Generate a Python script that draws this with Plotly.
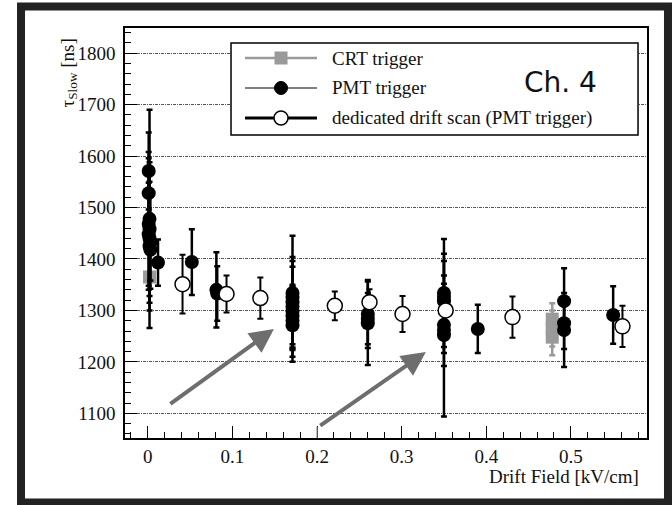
import plotly.graph_objects as go

# ---- data: slow scintillation time constant vs drift field ----
# CRT trigger runs
crt_x = [0.002, 0.478, 0.478, 0.478]
crt_y = [1365, 1283, 1265, 1248]
crt_err = [8, 31, 35, 35]

# PMT trigger runs
pmt_x = [0.001, 0.001, 0.002, 0.001, 0.002, 0.001, 0.002, 0.003, 0.002, 0.003, 0.012,
         0.052, 0.081, 0.082,
         0.171, 0.171, 0.171, 0.171, 0.171, 0.171, 0.171, 0.171,
         0.260, 0.260, 0.260,
         0.350, 0.350, 0.350, 0.350, 0.350, 0.350,
         0.390, 0.492, 0.492, 0.492, 0.550]
pmt_y = [1571, 1528, 1478, 1468, 1458, 1448, 1440, 1432, 1425, 1418, 1393,
         1394, 1340, 1333,
         1334, 1325, 1316, 1307, 1298, 1289, 1280, 1271,
         1293, 1284, 1275,
         1334, 1326, 1318, 1272, 1262, 1252,
         1264, 1318, 1275, 1262, 1291]
pmt_err = [75, 80, 212, 128, 130, 100, 125, 90, 125, 60, 45,
           64, 73, 53,
           111, 60, 88, 40, 98, 55, 70, 45,
           66, 50, 81,
           105, 70, 50, 80, 45, 158,
           47, 64, 50, 72, 56]

# dedicated drift scan (PMT trigger)
scan_x = [0.041, 0.093, 0.133, 0.221, 0.262, 0.301, 0.352, 0.431, 0.561]
scan_y = [1351, 1332, 1324, 1309, 1316, 1293, 1300, 1287, 1269]
scan_err = [57, 36, 40, 28, 25, 35, 30, 40, 40]

legend_labels = ["CRT trigger", "PMT trigger", "dedicated drift scan (PMT trigger)"]

SERIF = "Liberation Serif, Times New Roman, serif"
GRAY = "#9a9a9a"

fig = go.Figure()

fig.add_trace(go.Scatter(
    x=crt_x, y=crt_y, mode="markers", name=legend_labels[0],
    marker=dict(symbol="square", size=13, color=GRAY),
    error_y=dict(type="data", array=crt_err, color=GRAY, thickness=2.5, width=3),
))
fig.add_trace(go.Scatter(
    x=pmt_x, y=pmt_y, mode="markers", name=legend_labels[1],
    marker=dict(symbol="circle", size=14, color="black"),
    error_y=dict(type="data", array=pmt_err, color="black", thickness=2.5, width=3),
))
fig.add_trace(go.Scatter(
    x=scan_x, y=scan_y, mode="markers", name=legend_labels[2],
    marker=dict(symbol="circle", size=15, color="white",
                line=dict(color="black", width=1.5)),
    error_y=dict(type="data", array=scan_err, color="black", thickness=2, width=3),
))

axis_common = dict(
    showline=True, linecolor="black", linewidth=1.5, mirror=True,
    ticks="inside", ticklen=12, tickwidth=1.2, tickcolor="black",
    tickfont=dict(family=SERIF, size=19, color="#111"),
    zeroline=False,
)

fig.update_xaxes(
    range=[-0.027, 0.59], dtick=0.1, tick0=0, showgrid=False,
    minor=dict(dtick=0.02, tick0=0, ticks="inside", ticklen=6, tickcolor="black"),
    **axis_common,
)
fig.update_yaxes(
    range=[1052, 1849], dtick=100, tick0=1000,
    showgrid=True, gridcolor="#555", gridwidth=1, griddash="3px,1px,1px,1px",
    minor=dict(dtick=20, tick0=1000, ticks="inside", ticklen=6, tickcolor="black",
               showgrid=False),
    ticklabelstandoff=4,
    **axis_common,
)

# ---- hand-drawn legend box ----
shapes = []
lx0, lx1 = 0.2031, 0.9828
ly0, ly1 = 0.739, 0.9634
shapes.append(dict(type="rect", xref="paper", yref="paper", x0=lx0, x1=lx1, y0=ly0, y1=ly1,
                   line=dict(color="black", width=1.5), fillcolor="white", layer="above"))
rows = [0.9268, 0.8537, 0.7805]
sx0, sx1, sxm = 0.2299, 0.3678, 0.2989
line_styles = [(GRAY, 2.5), ("black", 1.2), ("black", 3)]
for ry, (c, w) in zip(rows, line_styles):
    shapes.append(dict(type="line", xref="paper", yref="paper", x0=sx0, x1=sx1, y0=ry, y1=ry,
                       line=dict(color=c, width=w), layer="above"))
# legend symbols
shapes.append(dict(type="rect", xref="paper", yref="paper", xsizemode="pixel", ysizemode="pixel",
                   xanchor=sxm, yanchor=rows[0], x0=-6.5, x1=6.5, y0=-6.5, y1=6.5,
                   fillcolor=GRAY, line=dict(width=0), layer="above"))
shapes.append(dict(type="circle", xref="paper", yref="paper", xsizemode="pixel", ysizemode="pixel",
                   xanchor=sxm, yanchor=rows[1], x0=-6.5, x1=6.5, y0=-6.5, y1=6.5,
                   fillcolor="black", line=dict(color="black", width=1), layer="above"))
shapes.append(dict(type="circle", xref="paper", yref="paper", xsizemode="pixel", ysizemode="pixel",
                   xanchor=sxm, yanchor=rows[2], x0=-7, x1=7, y0=-7, y1=7,
                   fillcolor="white", line=dict(color="black", width=1.5), layer="above"))

# outer dark frame
shapes.append(dict(type="rect", xref="paper", yref="paper",
                   x0=-0.1992, x1=1.0402, y0=-0.1573, y1=1.0524,
                   line=dict(color="#222", width=8), fillcolor="rgba(0,0,0,0)", layer="above"))
# small tick under second arrow
shapes.append(dict(type="line", xref="x", yref="y", x0=0.2, x1=0.2, y0=1052, y1=1074,
                   line=dict(color="#888", width=1.2), layer="above"))

annotations = []
for ry, txt in zip(rows, legend_labels):
    annotations.append(dict(xref="paper", yref="paper", x=0.3927, y=ry, text=txt,
                            showarrow=False, xanchor="left", yanchor="middle",
                            font=dict(family=SERIF, size=19, color="#111")))
annotations.append(dict(xref="paper", yref="paper", x=0.835, y=0.868, text="Ch. 4",
                        showarrow=False, xanchor="center", yanchor="middle",
                        font=dict(family="DejaVu Sans", size=28, color="#111")))
# axis titles
annotations.append(dict(xref="paper", yref="paper", x=0.9885, y=-0.0927,
                        text="Drift Field [kV/cm]", showarrow=False,
                        xanchor="right", yanchor="middle",
                        font=dict(family=SERIF, size=19, color="#111")))
annotations.append(dict(xref="paper", yref="paper", x=-0.1073, y=0.8915,
                        text="τ<sub>Slow</sub> [ns]", showarrow=False, textangle=-90,
                        xanchor="center", yanchor="middle",
                        font=dict(family=SERIF, size=19, color="#111")))
# arrows pointing at the two clusters
for (tx, ty, ax, ay) in [(0.149, 1264, 0.0248, 1116), (0.3286, 1219, 0.202, 1074)]:
    annotations.append(dict(xref="x", yref="y", axref="x", ayref="y",
                            x=tx, y=ty, ax=ax, ay=ay, text="", showarrow=True,
                            arrowhead=2, arrowsize=1.2, arrowwidth=4, arrowcolor="#6e6e6e"))

fig.update_layout(
    width=672, height=505, autosize=False,
    margin=dict(l=125, r=25, t=28, b=67),
    paper_bgcolor="white", plot_bgcolor="white",
    showlegend=False,
    shapes=shapes, annotations=annotations,
)

fig.write_html("out.html")
